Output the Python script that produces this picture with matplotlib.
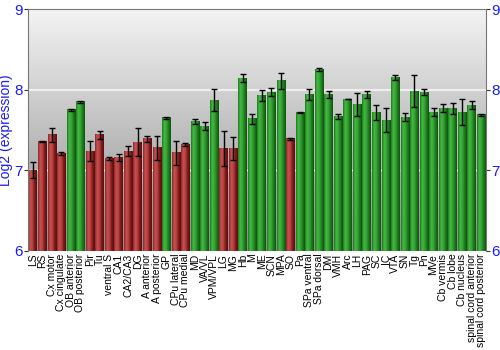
import numpy as np
import matplotlib
matplotlib.use("Agg")
import matplotlib.pyplot as plt
from matplotlib.colors import LinearSegmentedColormap

plt.rcParams['font.family'] = ['Liberation Sans', 'DejaVu Sans']

regions = ['LS', 'RS', 'Cx motor', 'Cx cingulate', 'OB anterior', 'OB posterior',
           'Pir', 'Tu', 'ventral S', 'CA1', 'CA2/CA3', 'DG', 'A anterior',
           'A posterior', 'GP', 'CPu lateral', 'CPu medial', 'MD', 'VA/VL',
           'VPM/VPL', 'LG', 'MG', 'Hb', 'M', 'ME', 'SCN', 'MPA', 'SO', 'Pa',
           'SPa ventral', 'SPa dorsal', 'DM', 'VMH', 'Arc', 'LH', 'PAG', 'SC',
           'IC', 'VTA', 'SN', 'Tg', 'Pn', 'MVe', 'Cb vermis', 'Cb lobe',
           'Cb nucleus', 'spinal cord anterior', 'spinal cord posterior']
values = [7.00, 7.36, 7.44, 7.21, 7.75, 7.85, 7.24, 7.44, 7.15, 7.16, 7.24, 7.35,
          7.39, 7.28, 7.65, 7.22, 7.32, 7.61, 7.55, 7.87, 7.27, 7.27, 8.14, 7.64,
          7.93, 7.97, 8.11, 7.39, 7.72, 7.94, 8.25, 7.94, 7.67, 7.885, 7.82, 7.94,
          7.715, 7.62, 8.15, 7.66, 7.98, 7.97, 7.72, 7.77, 7.77, 7.72, 7.81, 7.69]
errors = [0.10, 0.01, 0.09, 0.02, 0.01, 0.01, 0.12, 0.05, 0.02, 0.04, 0.06, 0.17,
          0.04, 0.15, 0.01, 0.15, 0.02, 0.03, 0.05, 0.14, 0.22, 0.14, 0.05, 0.06,
          0.07, 0.05, 0.10, 0.01, 0.005, 0.07, 0.02, 0.04, 0.03, 0.005, 0.14, 0.04,
          0.09, 0.15, 0.03, 0.05, 0.20, 0.04, 0.05, 0.05, 0.07, 0.16, 0.05, 0.01]
# r = low, g = high
group = list('rrrrggrrrrrrrrgrrgggrrgggggrgggggggggggggggggggg')

blue = '#1a1aff'
red_cm = LinearSegmentedColormap.from_list('r', ['#8a2a2a', '#c85050', '#b84040', '#7a1a1a', '#5a1010'])
green_cm = LinearSegmentedColormap.from_list('g', ['#1f7a1f', '#45b845', '#35a535', '#1d7a1d', '#105510'])

fig = plt.figure(figsize=(5, 3.5), dpi=100)
ax = fig.add_axes([0.056, 0.283, 0.916, 0.691])

n = len(regions)
x = np.arange(n)
w = 0.9

# background gradient, light at top
bg = np.linspace(0, 1, 100).reshape(-1, 1)
bg_cm = LinearSegmentedColormap.from_list('bg', ['#f3f3f3', '#8c8c8c'])
ax.imshow(bg, cmap=bg_cm, aspect='auto', origin='upper',
          extent=[-0.5, n - 0.5, 6, 9], zorder=0)

ax.axhline(7, color='white', lw=1, ls=(0, (3, 1)), zorder=1)
ax.axhline(8, color='#eeeeee', lw=1.5, zorder=1)

grad = np.linspace(0, 1, 50).reshape(1, -1)
for xi, v, g in zip(x, values, group):
    cm = red_cm if g == 'r' else green_cm
    ax.imshow(grad, cmap=cm, aspect='auto', extent=[xi - w / 2, xi + w / 2, 6, v], zorder=2)

ax.errorbar(x, values, yerr=errors, fmt='none', ecolor='black', elinewidth=1,
            capsize=2, capthick=1, zorder=3)

ax.set_xlim(-0.5, n - 0.5)
ax.set_ylim(6, 9)
ax.set_xticks(x)
ax.set_xticklabels(regions, rotation=90, fontsize=7.5)
ax.tick_params(axis='x', length=0, pad=2)
ax.set_yticks([6, 7, 8, 9])
ax.tick_params(axis='y', colors='#333333', labelcolor=blue, labelsize=11, length=3,
               pad=1, right=True, labelright=True)
ax.set_ylabel('Log2 (expression)', color=blue, fontsize=10, labelpad=1)

for s in ['top', 'left', 'right']:
    ax.spines[s].set_color('#777777')
ax.spines['bottom'].set_visible(False)

fig.savefig('out.png', dpi=100)
